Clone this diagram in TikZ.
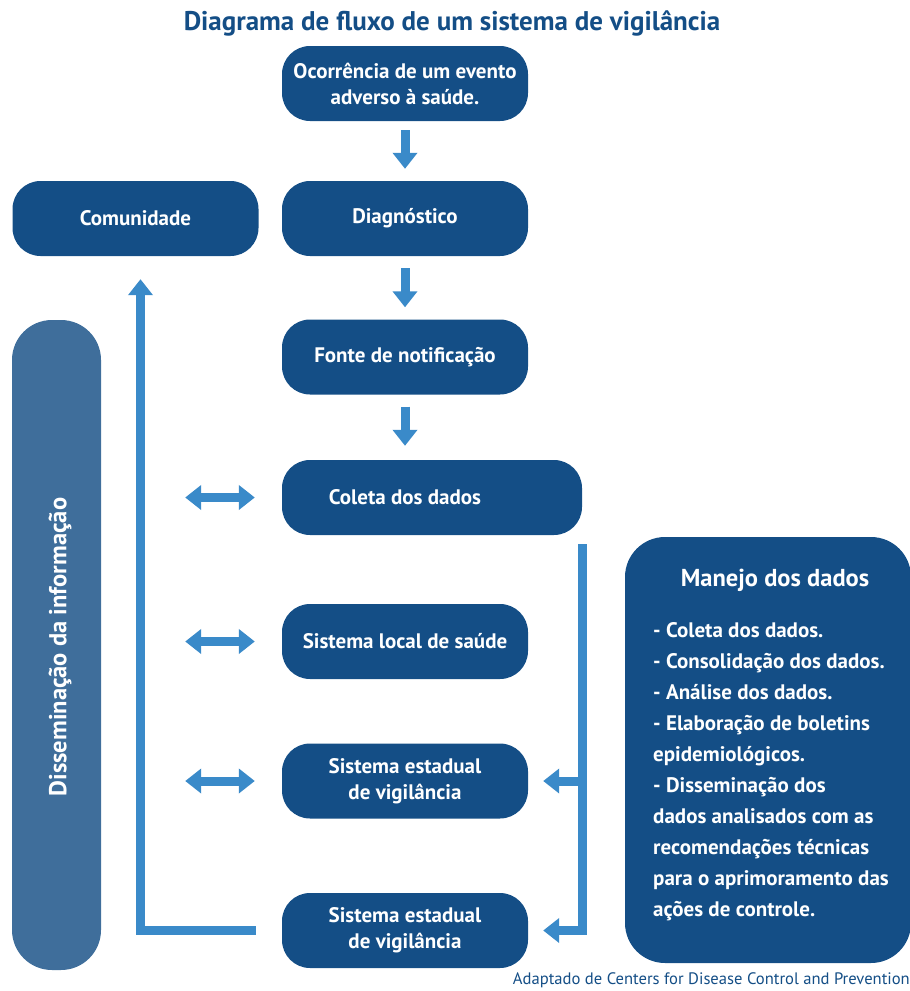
\documentclass[tikz,border=0pt]{standalone}
\usepackage{fontspec}
\setmainfont{PT Sans}
\usetikzlibrary{arrows.meta}
\definecolor{dblue}{RGB}{20,78,134}
\definecolor{sblue}{RGB}{63,110,155}
\definecolor{lblue}{RGB}{58,138,201}
\tikzset{
  box/.style={rectangle, rounded corners=28pt, fill=dblue, text=white,
    font=\bfseries\fontsize{21}{26}\selectfont, minimum width=246pt,
    minimum height=75pt, align=center, inner sep=0pt},
  boxtext/.style={text=white, font=\bfseries\fontsize{21}{26}\selectfont, align=center, inner sep=0pt},
  arr/.style={draw=lblue, line width=9pt, -{Triangle[length=16pt,width=24pt]}},
  darr/.style={draw=lblue, line width=9pt, {Triangle[length=16pt,width=24pt]}-{Triangle[length=16pt,width=24pt]}},
}
\begin{document}
\begin{tikzpicture}[x=1pt,y=-1pt]
\useasboundingbox (0,0) rectangle (910,991);

% title
\node[text=dblue, font=\bfseries\fontsize{27}{30}\selectfont] (title) at (452,23) {Diagrama de fluxo de um sistema de vigilância};

% main chain of boxes
\node[box] (occ) at (405,83.5) {Ocorrência de um evento\\adverso à saúde.};
\node[box] (diag) at (405,218.5) {Diagnóstico};
\node[box] (com) at (135.5,218.5) {Comunidade};
\node[box] (fonte) at (405,357) {Fonte de notificação};
\node[box, minimum width=300pt] (coleta) at (432,497.5) {};
\node[boxtext] (coletatxt) at (405,497.5) {Coleta dos dados};
\node[box] (local) at (405,641.5) {Sistema local de saúde};
\node[box] (sev1) at (405,781) {Sistema estadual\\de vigilância};
\node[box] (sev2) at (405,930.5) {Sistema estadual\\de vigilância};

% side panels
\node[rectangle, rounded corners=40pt, fill=sblue, minimum width=89pt, minimum height=650pt, inner sep=0pt] (dis) at (56.5,645) {};
\node[boxtext, rotate=90, font=\bfseries\fontsize{24.5}{28}\selectfont] (distxt) at (60,647) {Disseminação da informação};

\node[rectangle, rounded corners=40pt, fill=dblue, minimum width=286pt, minimum height=426pt, inner sep=0pt] (manejo) at (768,750) {};
\node[boxtext, font=\bfseries\fontsize{24.5}{28}\selectfont] (manejotit) at (775,580) {Manejo dos dados};
\node[boxtext, align=left, anchor=north west, font=\bfseries\fontsize{21}{31}\selectfont] (manejolist) at (653,622)
  {- Coleta dos dados.\\- Consolidação dos dados.\\- Análise dos dados.\\- Elaboração de boletins\\epidemiológicos.\\- Disseminação dos\\dados analisados com as\\recomendações técnicas\\para o aprimoramento das\\ações de controle.};

% downward flow
\draw[arr, shorten <=9pt, shorten >=12pt] (occ.south) -- (diag.north);
\draw[arr, shorten <=12pt, shorten >=12pt] (diag.south) -- (fonte.north);
\draw[arr, shorten <=12pt, shorten >=14pt] (fonte.south) -- (coleta.north -| fonte.south);

% two-way exchanges
\draw[darr, shorten <=84pt, shorten >=27pt] (coleta.west -| dis.east) -- (coleta.west);
\draw[darr, shorten <=84pt, shorten >=27pt] (local.west -| dis.east) -- (local.west);
\draw[darr, shorten <=84pt, shorten >=27pt] (sev1.west -| dis.east) -- (sev1.west);

% feedback to the community
\draw[arr, shorten <=26pt] (sev2.west) -| ([xshift=5pt,yshift=-23pt]com.south);

% data management bracket
\draw[arr, shorten >=15pt] ([yshift=-9pt]coleta.south east) |- (sev2.east);
\draw[arr, shorten >=15pt] (sev1.east -| coleta.east) -- (sev1.east);

% source
\node[text=dblue, anchor=east, font=\fontsize{16.6}{19}\selectfont, inner sep=0pt] (src) at (910,980) {Adaptado de Centers for Disease Control and Prevention};
\end{tikzpicture}
\end{document}
